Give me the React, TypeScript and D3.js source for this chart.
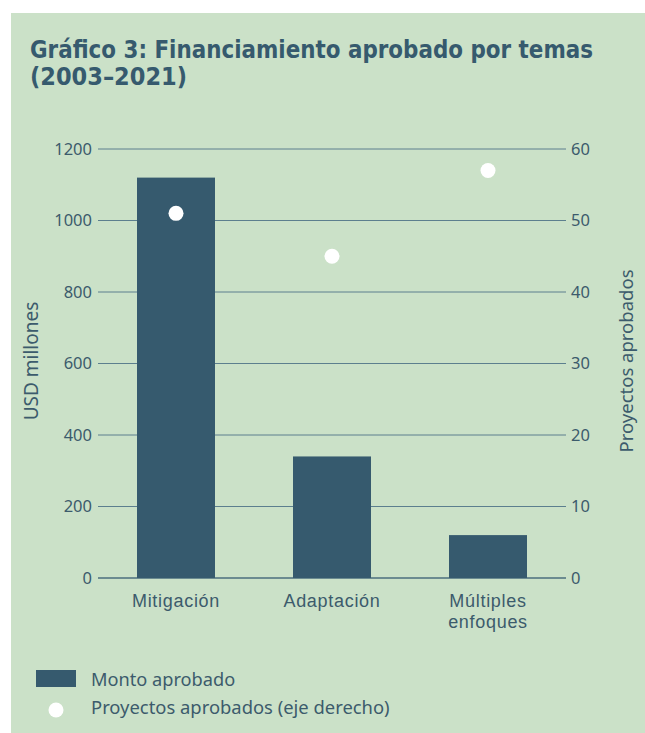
import React from "react";
import * as d3 from "d3";

const categories = ["Mitigación", "Adaptación", "Múltiples\nenfoques"];
const montoAprobado = [1120, 340, 120];
const proyectosAprobados = [51, 45, 57];
const leftTicks = [0, 200, 400, 600, 800, 1000, 1200];
const rightTicks = [0, 10, 20, 30, 40, 50, 60];
const titleLines = ["Gráfico 3: Financiamiento aprobado por temas", "(2003–2021)"];
const legendLabels = ["Monto aprobado", "Proyectos aprobados (eje derecho)"];

const W = 645;
const H = 733;
const BG = "#cbe1c8";
const BAR = "#365a6e";
const TEXT = "#3c5b6c";
const GRID = "#5c7f8e";

export default function App() {
  const x = d3.scaleBand<string>().domain(categories).range([98, 566]).paddingInner(0.5).paddingOuter(0.25);
  const yL = d3.scaleLinear().domain([0, 1200]).range([578, 149]);
  const yR = d3.scaleLinear().domain([0, 60]).range([578, 149]);
  const font = "'Noto Sans', 'Open Sans', sans-serif";
  const catFont = "'Liberation Sans', Arial, sans-serif";
  return (
    <svg width={W} height={H} style={{ position: "absolute", left: 0, top: 0, display: "block" }} fontFamily={font}>
      <rect x={0} y={0} width={W} height={H} fill="#fff" />
      <rect x={11} y={13} width={W - 11} height={H - 13} fill={BG} />
      {titleLines.map((t, i) => (
        <text key={i} x={30} y={58 + i * 27} fill={BAR} fontSize={24} fontWeight={700}
          fontFamily="'Liberation Sans Narrow', 'DejaVu Sans Condensed', sans-serif"
          textLength={i === 0 ? 563 : 157} lengthAdjust="spacingAndGlyphs">{t}</text>
      ))}
      {leftTicks.map((v) => (
        <g key={v}>
          <line x1={98} x2={566} y1={yL(v)} y2={yL(v)} stroke={v === 0 ? "#4b6e7e" : GRID} strokeWidth={v === 0 ? 1.3 : 1} />
          <text x={92} y={yL(v)} dy="0.35em" textAnchor="end" fill={TEXT} fontSize={16.5}>{v}</text>
        </g>
      ))}
      {rightTicks.map((v) => (
        <text key={v} x={571} y={yR(v)} dy="0.35em" textAnchor="start" fill={TEXT} fontSize={16.5}>{v}</text>
      ))}
      <text transform={`translate(38,361) rotate(-90)`} textAnchor="middle" fill={TEXT} fontSize={19}>USD millones</text>
      <text transform={`translate(633,361) rotate(-90)`} textAnchor="middle" fill={TEXT} fontSize={18.5}>Proyectos aprobados</text>
      {categories.map((c, i) => (
        <rect key={c} x={x(c)} width={x.bandwidth()} y={yL(montoAprobado[i])} height={yL(0) - yL(montoAprobado[i])} fill={BAR} />
      ))}
      {categories.map((c, i) => (
        <circle key={c} cx={(x(c) as number) + x.bandwidth() / 2} cy={yR(proyectosAprobados[i])} r={7.5} fill="#fff" />
      ))}
      {categories.map((c) =>
        c.split("\n").map((l, j) => (
          <text key={c + j} x={(x(c) as number) + x.bandwidth() / 2} y={607 + j * 20.5} textAnchor="middle"
            fill={TEXT} fontSize={18} fontFamily={catFont} letterSpacing={0.7}>{l}</text>
        ))
      )}
      <rect x={36} y={670} width={40} height={17} fill={BAR} />
      <text x={91} y={686} fill={TEXT} fontSize={18.2}>{legendLabels[0]}</text>
      <circle cx={56} cy={710} r={7.5} fill="#fff" />
      <text x={91} y={714} fill={TEXT} fontSize={18.4}>{legendLabels[1]}</text>
    </svg>
  );
}
